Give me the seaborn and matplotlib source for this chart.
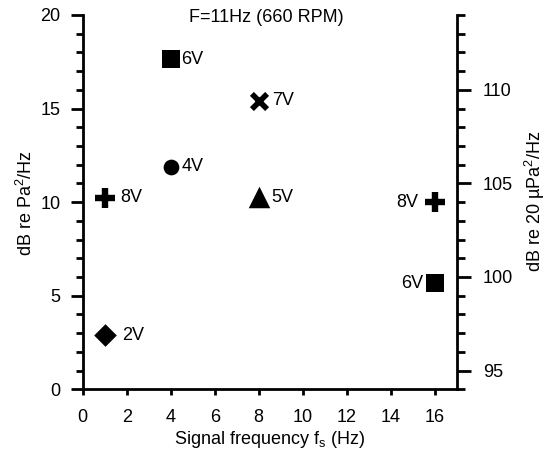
import matplotlib
matplotlib.use("Agg")
import matplotlib.pyplot as plt
from matplotlib.ticker import MultipleLocator
import seaborn as sns
import pandas as pd

# Points read against the left axis (dB re Pa^2/Hz)
left_freq = [4, 4, 1, 8, 8, 1]
left_level = [17.64, 11.9, 10.23, 15.41, 10.25, 2.9]
left_labels = ["6V", "4V", "8V", "7V", "5V", "2V"]
left_markers = ["s", "o", "+", "x", "^", "D"]

# Points read against the right axis (dB re 20 µPa^2/Hz)
right_freq = [16, 16]
right_level = [104.0, 99.66]
right_labels = ["8V", "6V"]
right_markers = ["+", "s"]

# Offset between the two reference levels: 20*log10(1 Pa / 20 µPa)
REF_OFFSET = 94.0

# horizontal gap (points) between each marker centre and its voltage label
left_gaps = [7.4, 8, 11, 10, 9, 12.3]
right_gaps = [12, 8.4]

sns.set_theme(style="ticks")
plt.rcParams["font.family"] = ["Liberation Sans", "DejaVu Sans"]
plt.rcParams["mathtext.fontset"] = "custom"
plt.rcParams["mathtext.rm"] = "Liberation Sans"
plt.rcParams["mathtext.it"] = "Liberation Sans"
plt.rcParams["text.color"] = "black"
plt.rcParams["axes.labelcolor"] = "black"

FS = 13

W, H = 549, 453
fig = plt.figure(figsize=(W / 100, H / 100), dpi=100)
ax = fig.add_axes([0.1506, 0.1406, 0.6813, 0.8265])
ax2 = ax.twinx()

marker_sizes = {"s": 150, "o": 128, "+": 210, "x": 120, "^": 240, "D": 133}
line_widths = {"+": 4.6, "x": 4.0}

def draw_points(axis, xs, ys, markers, labels, gaps, side):
    df = pd.DataFrame({"f": xs, "level": ys, "m": markers, "lab": labels, "gap": gaps})
    for _, row in df.iterrows():
        m = row["m"]
        sns.scatterplot(x=[row["f"]], y=[row["level"]], marker=m,
                        s=marker_sizes[m], color="black",
                        linewidth=line_widths.get(m, 0), legend=False, ax=axis)
        sign = 1 if side == "right" else -1
        axis.annotate(row["lab"], (row["f"], row["level"]),
                      xytext=(sign * row["gap"], 0), textcoords="offset points",
                      ha="left" if side == "right" else "right", va="center",
                      fontsize=FS)

draw_points(ax, left_freq, left_level, left_markers, left_labels, left_gaps, "right")
draw_points(ax2, right_freq, right_level, right_markers, right_labels, right_gaps, "left")

ax.set_xlim(0, 17)
ax.set_ylim(0, 20)
ax2.set_ylim(0 + REF_OFFSET, 20 + REF_OFFSET)

ax.set_xticks(range(0, 17, 2))
ax.set_yticks([0, 5, 10, 15, 20])
ax.yaxis.set_minor_locator(MultipleLocator(1))
ax2.set_yticks([95, 100, 105, 110])
ax2.yaxis.set_minor_locator(MultipleLocator(1))

for a in (ax, ax2):
    for s in a.spines.values():
        s.set_linewidth(2)
        s.set_color("black")
    a.spines["top"].set_visible(False)
ax.spines["right"].set_visible(False)
ax2.spines["left"].set_visible(False)
ax2.spines["bottom"].set_visible(False)

ax.tick_params(axis="y", which="major", length=9, width=2, labelsize=FS,
               color="black", labelcolor="black", pad=7)
ax.tick_params(axis="y", which="minor", length=4.8, width=2, color="black")
ax.tick_params(axis="x", which="major", length=4.5, width=2, labelsize=FS,
               color="black", labelcolor="black", pad=9.5)
ax2.tick_params(axis="y", which="major", length=9.8, width=2, labelsize=FS,
                color="black", labelcolor="black", pad=9)
ax2.tick_params(axis="y", which="minor", length=6, width=2, color="black")

ax.set_xlabel("Signal frequency f$_{\\rm s}$ (Hz)", fontsize=FS)
ax.set_ylabel("dB re Pa$^2$/Hz", fontsize=FS)
ax2.set_ylabel("dB re 20 µPa$^2$/Hz", fontsize=FS)

# place the axis labels by their centres (pixel positions in the figure)
x0, x1, y0, y1 = 82.7, 456.7, 389.3, 14.9
def to_axes(px, py):
    return (px - x0) / (x1 - x0), (y0 - py) / (y0 - y1)

for lab in (ax.xaxis.label, ax.yaxis.label, ax2.yaxis.label):
    lab.set_verticalalignment("center")
    lab.set_horizontalalignment("center")
ax.xaxis.set_label_coords(*to_axes(269.7, 439.5))
ax.yaxis.set_label_coords(*to_axes(26, 203.5))
ax2.yaxis.set_label_coords(*to_axes(535, 201.5))

ax.text(*to_axes(266.5, 17), "F=11Hz (660 RPM)", transform=ax.transAxes,
        ha="center", va="center", fontsize=FS)

fig.savefig("out.png", dpi=100)
